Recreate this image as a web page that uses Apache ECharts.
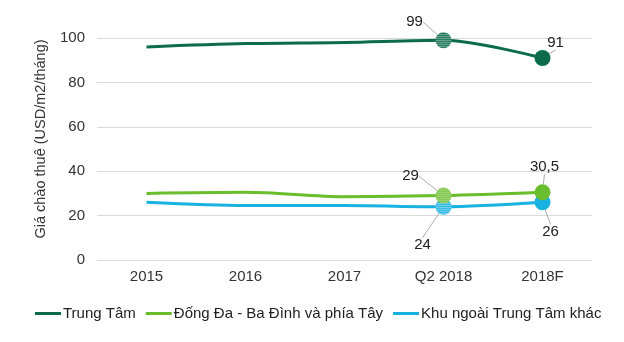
<!DOCTYPE html>
<html><head><meta charset="utf-8">
<script src="https://cdn.jsdelivr.net/npm/echarts@6/dist/echarts.min.js"></script>
<style>html,body{margin:0;padding:0;background:#fff}#c{width:624px;height:342px}</style>
</head><body><div id="c"></div>
<script>
const categories = ['2015', '2016', '2017', 'Q2 2018', '2018F'];
const trungTam = [96, 97.5, 98, 99, 91];
const dongDa = [30, 30.5, 28.5, 29, 30.5];
const khuNgoai = [26, 24.5, 24.5, 24, 26];
const seriesNames = ['Trung Tâm', 'Đống Đa - Ba Đình và phía Tây', 'Khu ngoài Trung Tâm khác'];
const labelTexts = [
  [null, null, null, '99', '91'],
  [null, null, null, '29', '30,5'],
  [null, null, null, '24', '26']
];
const colors = ['#0B6B4A', '#6ABD2D', '#17B2DF'];
const FONT = 'Liberation Sans, Arial, sans-serif';
const MARK = 16;

function dotPattern(color) {
  const c = document.createElement('canvas');
  c.width = 2; c.height = 2;
  const ctx = c.getContext('2d');
  ctx.fillStyle = color; ctx.fillRect(0, 0, 2, 2);
  ctx.fillStyle = '#ffffff'; ctx.fillRect(0, 0, 1, 1);
  return { image: c, repeat: 'repeat', scaleX: 2 / MARK, scaleY: 2 / MARK };
}

const labelCfg = [
  { pos: 'top', off: { 3: [-29, 2], 4: [13, 5] } },
  { pos: 'top', off: { 3: [-33, 1], 4: [2, -5] } },
  { pos: 'bottom', off: { 3: [-21, 18], 4: [8, 9] } }
];

function buildData(values, si) {
  return values.map((v, i) => {
    if (labelTexts[si][i] == null) {
      return { value: v, symbol: 'none' };
    }
    const isQ2 = categories[i] === 'Q2 2018';
    return {
      value: v,
      symbol: 'circle',
      symbolSize: MARK,
      itemStyle: { color: isQ2 ? dotPattern(colors[si]) : colors[si], borderWidth: 0 },
      label: {
        show: true,
        position: labelCfg[si].pos,
        formatter: labelTexts[si][i],
        color: '#222',
        fontSize: 15,
        fontFamily: FONT
      },
      labelLine: { show: true, lineStyle: { color: '#aaa', width: 1 } }
    };
  });
}

const allValues = [trungTam, dongDa, khuNgoai];
const chart = echarts.init(document.getElementById('c'), null, { renderer: 'canvas' });
chart.setOption({
  animation: false,
  grid: { left: 97, right: 32, top: 38, bottom: 82 },
  legend: {
    bottom: 16,
    left: 30,
    itemWidth: 26,
    itemHeight: 3,
    itemGap: 10,
    icon: 'rect',
    textStyle: { fontSize: 15, fontFamily: FONT, color: '#222', padding: [0, 0, 0, -3] },
    data: seriesNames
  },
  xAxis: {
    type: 'category',
    data: categories,
    boundaryGap: true,
    axisLine: { show: false },
    axisTick: { show: false },
    axisLabel: { fontSize: 15, fontFamily: FONT, color: '#333', margin: 9 }
  },
  yAxis: {
    type: 'value',
    min: 0, max: 100, interval: 20,
    name: 'Giá chào thuê (USD/m2/tháng)',
    nameLocation: 'middle',
    nameGap: 49,
    nameTextStyle: { fontSize: 14.5, fontFamily: FONT, color: '#333', padding: [0, 0, 0, 20] },
    axisLabel: { fontSize: 15, fontFamily: FONT, color: '#333', margin: 12 },
    splitLine: { lineStyle: { color: '#d9d9d9', width: 1 } },
    axisLine: { show: false },
    axisTick: { show: false }
  },
  series: allValues.map((vals, si) => ({
    name: seriesNames[si],
    type: 'line',
    smooth: 0.3,
    color: colors[si],
    lineStyle: { width: 3, color: colors[si] },
    itemStyle: { color: colors[si] },
    data: buildData(vals, si),
    labelLayout: function (p) {
      const o = labelCfg[si].off[p.dataIndex];
      return o ? { dx: o[0], dy: o[1] } : {};
    },
    z: 3 - si
  }))
});
</script></body></html>
